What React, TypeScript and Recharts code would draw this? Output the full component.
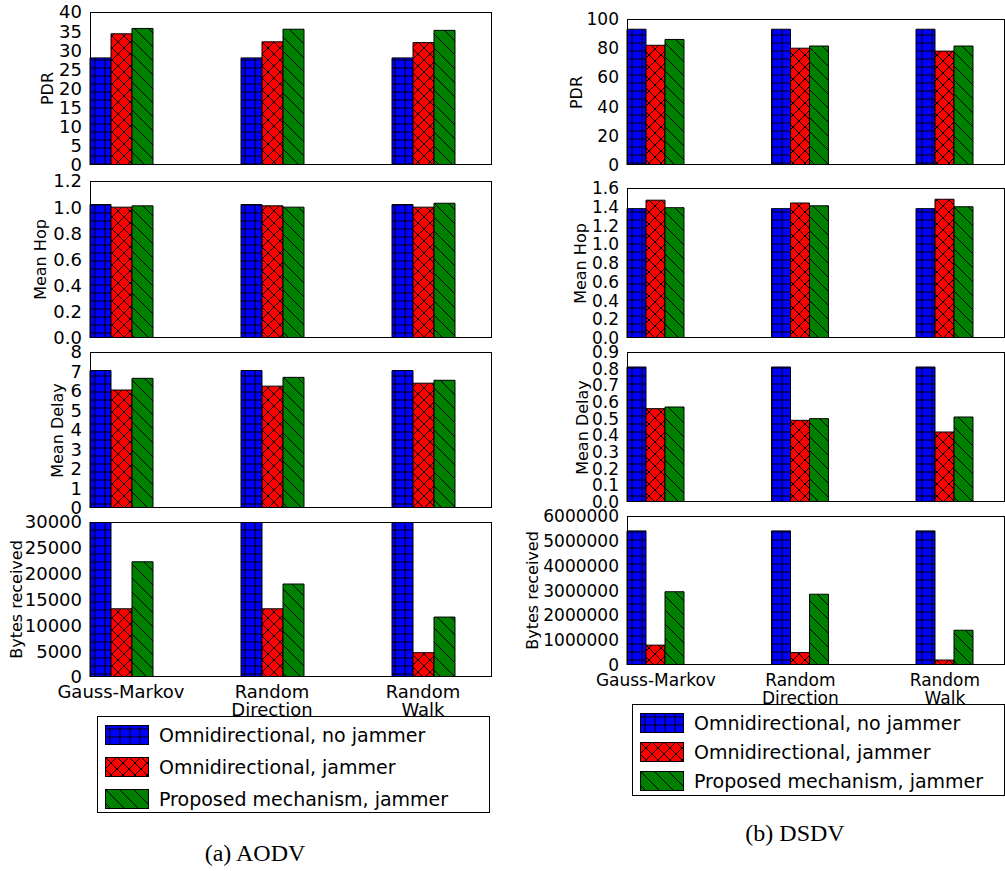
import React from "react";
import { BarChart, Bar, XAxis, YAxis } from "recharts";

const categories = ["Gauss-Markov", "Random\nDirection", "Random\nWalk"];
const seriesNames = ["Omnidirectional, no jammer", "Omnidirectional, jammer", "Proposed mechanism, jammer"];

const aodvPdr = [[28, 34.3, 35.7], [28, 32.2, 35.5], [28, 32, 35.2]];
const aodvHop = [[1.02, 1.0, 1.01], [1.02, 1.01, 1.0], [1.02, 1.0, 1.03]];
const aodvDelay = [[7.05, 6.05, 6.65], [7.05, 6.25, 6.7], [7.05, 6.4, 6.55]];
const aodvBytes = [[31000, 13200, 22300], [31000, 13200, 18000], [31000, 4700, 11600]];

const dsdvPdr = [[93, 82, 86], [93, 80, 81.5], [93, 78, 81.5]];
const dsdvHop = [[1.38, 1.47, 1.39], [1.38, 1.44, 1.41], [1.38, 1.48, 1.4]];
const dsdvDelay = [[0.81, 0.56, 0.57], [0.81, 0.49, 0.5], [0.81, 0.42, 0.51]];
const dsdvBytes = [[5400000, 800000, 2950000], [5400000, 500000, 2850000], [5400000, 200000, 1400000]];

const aodvTicks = {
  pdr: [0, 5, 10, 15, 20, 25, 30, 35, 40],
  hop: [0, 0.2, 0.4, 0.6, 0.8, 1.0, 1.2],
  delay: [0, 1, 2, 3, 4, 5, 6, 7, 8],
  bytes: [0, 5000, 10000, 15000, 20000, 25000, 30000],
};
const dsdvTicks = {
  pdr: [0, 20, 40, 60, 80, 100],
  hop: [0, 0.2, 0.4, 0.6, 0.8, 1.0, 1.2, 1.4, 1.6],
  delay: [0, 0.1, 0.2, 0.3, 0.4, 0.5, 0.6, 0.7, 0.8, 0.9],
  bytes: [0, 1000000, 2000000, 3000000, 4000000, 5000000, 6000000],
};

const fills = ["url(#hatchBlue)", "url(#hatchRed)", "url(#hatchGreen)"];
const FONT = "DejaVu Sans, sans-serif";

const toRows = (vals: number[][]) =>
  categories.map((c, i) => ({ cat: c, s0: vals[i][0], s1: vals[i][1], s2: vals[i][2] }));

function Panel({ x, y, w, h, u, g, vals, ticks, label, bottom, decimals, labelX, fs }: any) {
  const ML = 110, MT = 12, MR = 10;
  const MB = bottom ? 60 : 0;
  const BM = bottom ? 0 : 10;
  const padL = -(0.5 * u - (g * u) / 2);
  const padR = 3 * u - w + padL;
  const fmt = (v: number) => (decimals === 1 ? v.toFixed(1) : String(v));
  return (
    <>
      <div style={{ position: "absolute", left: x - ML, top: y - MT }}>
        <BarChart
          width={w + ML + MR}
          height={h + MT + MB + BM}
          data={toRows(vals)}
          margin={{ top: MT, right: MR, left: 0, bottom: BM }}
          barCategoryGap={(u - g * u) / 2}
          barGap={0}
        >
          <XAxis
            dataKey="cat"
            hide={!bottom}
            height={MB}
            axisLine={false}
            tickLine={false}
            interval={0}
            padding={{ left: padL, right: -padR }}
            tick={(p: any) => {
              const lines = String(p.payload.value).split("\n");
              return (
                <text x={p.x} y={p.y} textAnchor="middle" fontFamily={FONT} fontSize={fs} fill="#000">
                  {lines.map((l: string, i: number) => (
                    <tspan key={i} x={p.x} dy={i === 0 ? 13 : 18}>{l}</tspan>
                  ))}
                </text>
              );
            }}
          />
          <YAxis
            width={ML}
            domain={[ticks[0], ticks[ticks.length - 1]]}
            ticks={ticks}
            interval={0}
            allowDataOverflow
            axisLine={false}
            tickLine={false}
            tickMargin={2}
            tickFormatter={fmt}
            tick={{ fontFamily: FONT, fontSize: fs, fill: "#000" }}
          />
          {[0, 1, 2].map((k) => (
            <Bar key={k} dataKey={"s" + k} fill={fills[k]} stroke="#000" strokeWidth={1} isAnimationActive={false} />
          ))}
        </BarChart>
      </div>
      <div style={{ position: "absolute", left: x, top: y, width: w, height: h, border: "1px solid #000", boxSizing: "border-box", pointerEvents: "none" }} />
      <div style={{ position: "absolute", left: labelX - 20, top: y + h / 2 - 10, width: 40, height: 20, display: "flex", justifyContent: "center", alignItems: "center" }}>
        <div style={{ transform: "rotate(-90deg)", whiteSpace: "nowrap", fontFamily: FONT, fontSize: 16 }}>{label}</div>
      </div>
    </>
  );
}

function Legend({ x, y, w, h, rowH }: any) {
  return (
    <div style={{ position: "absolute", left: x, top: y, width: w, height: h, border: "1px solid #000", boxSizing: "border-box", background: "#fff" }}>
      {seriesNames.map((n, i) => (
        <div key={i} style={{ position: "absolute", left: 7, top: 7 + i * rowH, display: "flex", alignItems: "center" }}>
          <svg width={44} height={20}>
            <rect x={0.5} y={0.5} width={43} height={19} fill={fills[i]} stroke="#000" />
          </svg>
          <span style={{ marginLeft: 10, fontFamily: FONT, fontSize: 19 }}>{n}</span>
        </div>
      ))}
    </div>
  );
}

export default function App() {
  const L = { x: 90, w: 402, u: 151, g: 0.41, fs: 18 };
  const R = { x: 627, w: 378, u: 144.5, g: 0.4, fs: 17 };
  return (
    <div style={{ position: "absolute", left: 0, top: 0, width: 1005, height: 871, background: "#fff", overflow: "hidden" }}>
      <svg width={0} height={0} style={{ position: "absolute" }}>
        <defs>
          <pattern id="hatchBlue" width={10} height={8} patternUnits="userSpaceOnUse">
            <rect width={10} height={8} fill="#0000ff" />
            <path d="M0 4H10M5 0V8" stroke="#000" strokeWidth={1} />
          </pattern>
          <pattern id="hatchRed" width={12} height={12} patternUnits="userSpaceOnUse">
            <rect width={12} height={12} fill="#ff0000" />
            <path d="M0 0L12 12M12 0L0 12" stroke="#000" strokeWidth={1} />
          </pattern>
          <pattern id="hatchGreen" width={14} height={14} patternUnits="userSpaceOnUse">
            <rect width={14} height={14} fill="#008000" />
            <path d="M0 0L14 14M-7 7L7 21M7 -7L21 7" stroke="#000" strokeWidth={1} />
          </pattern>
        </defs>
      </svg>

      <Panel {...L} y={12} h={153} vals={aodvPdr} ticks={aodvTicks.pdr} label="PDR" labelX={48} />
      <Panel {...L} y={181} h={157} vals={aodvHop} ticks={aodvTicks.hop} label="Mean Hop" decimals={1} labelX={40} />
      <Panel {...L} y={352} h={156} vals={aodvDelay} ticks={aodvTicks.delay} label="Mean Delay" labelX={57} />
      <Panel {...L} y={522} h={155} vals={aodvBytes} ticks={aodvTicks.bytes} label="Bytes received" bottom labelX={16} />

      <Panel {...R} y={19} h={146} vals={dsdvPdr} ticks={dsdvTicks.pdr} label="PDR" labelX={577} />
      <Panel {...R} y={188} h={150} vals={dsdvHop} ticks={dsdvTicks.hop} label="Mean Hop" decimals={1} labelX={580} />
      <Panel {...R} y={352} h={150} vals={dsdvDelay} ticks={dsdvTicks.delay} label="Mean Delay" decimals={1} labelX={582} />
      <Panel {...R} y={516} h={149} vals={dsdvBytes} ticks={dsdvTicks.bytes} label="Bytes received" bottom labelX={532} />

      <Legend x={97} y={716} w={393} h={97} rowH={32} />
      <Legend x={632} y={704} w={373} h={92} rowH={29} />

      <div style={{ position: "absolute", left: 155, top: 840, width: 200, textAlign: "center", fontFamily: "Liberation Serif, serif", fontSize: 24 }}>(a) AODV</div>
      <div style={{ position: "absolute", left: 695, top: 820, width: 200, textAlign: "center", fontFamily: "Liberation Serif, serif", fontSize: 24 }}>(b) DSDV</div>
    </div>
  );
}
